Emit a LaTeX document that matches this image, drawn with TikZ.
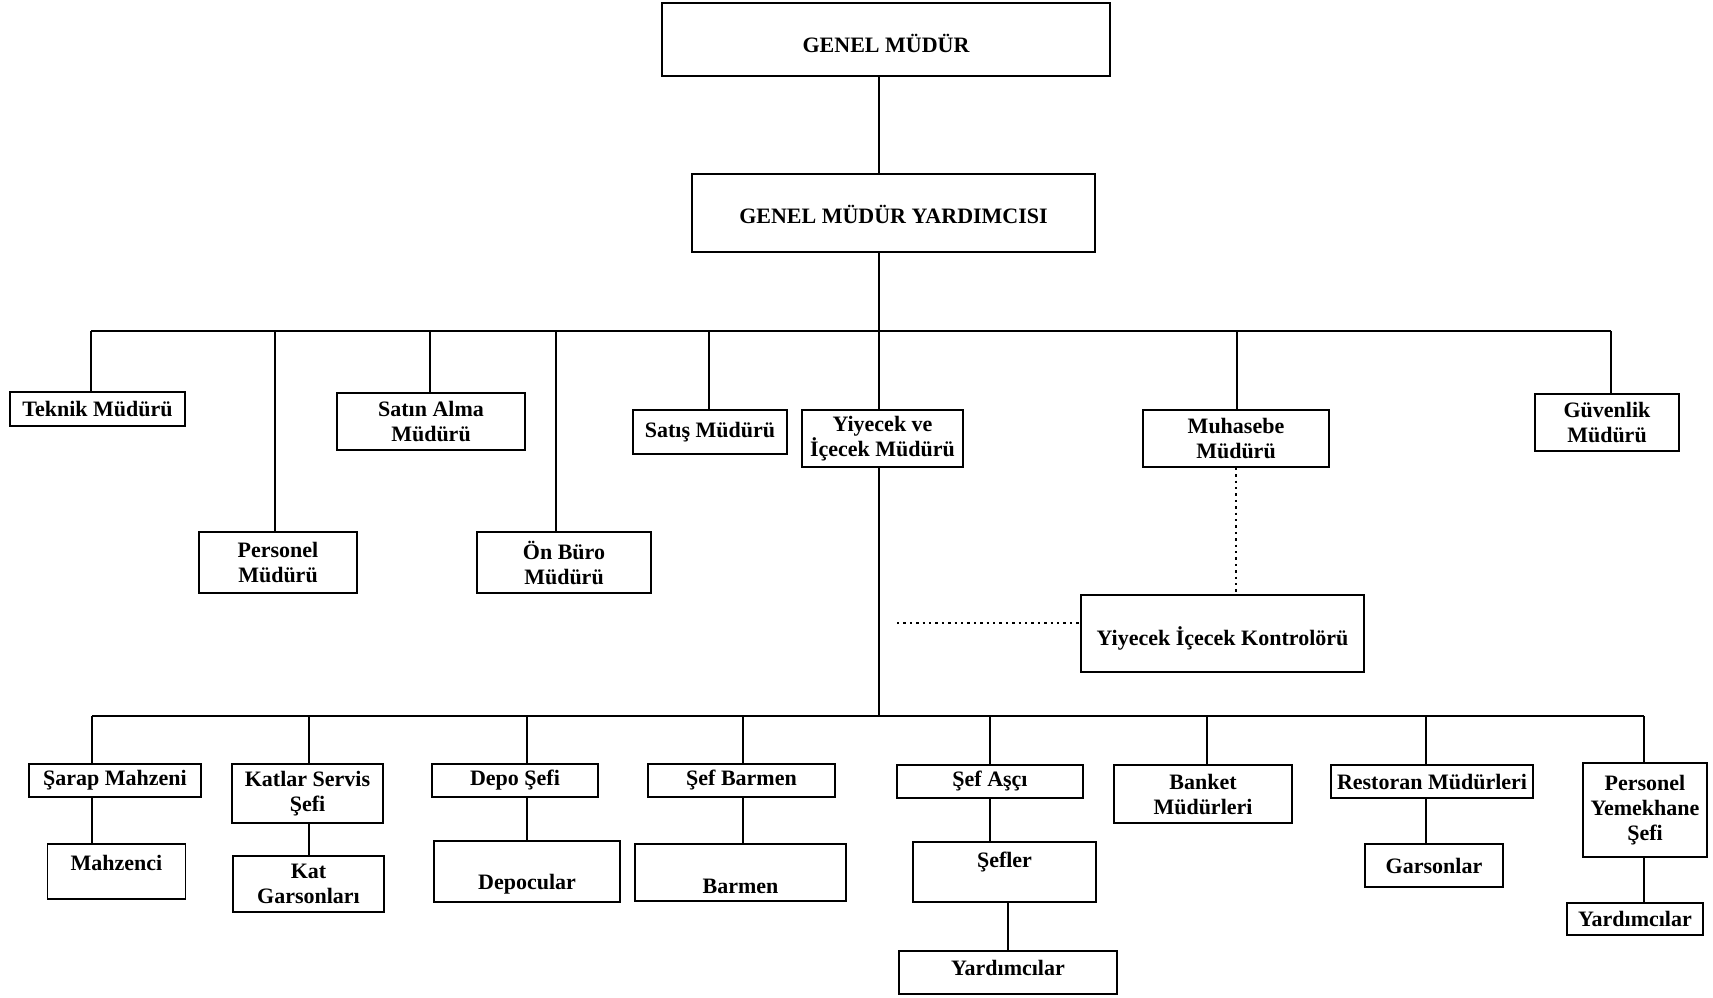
\documentclass[tikz,border=0pt]{standalone}
\usepackage{fontspec}
\setmainfont{Liberation Serif}
\usepackage{tikz}
\usetikzlibrary{calc,positioning}

\begin{document}
\begin{tikzpicture}[x=0.5pt,y=-0.5pt]

\tikzset{kutu/.style 2 args={draw,line width=0.8pt,inner sep=0pt,align=center,font=\bfseries\fontsize{11}{12.5}\selectfont,minimum width=#1,minimum height=#2},
baglanti/.style={line width=0.8pt},
noktali/.style={line width=0.8pt,dash pattern=on 1.2pt off 2pt}}

\useasboundingbox (0,0) rectangle (1713,997);

% Top
\node[kutu={224pt}{36.5pt},text height=13pt] (gm) at (886,39.5) {GENEL MÜDÜR};
\node[kutu={201.5pt}{39pt},text height=11pt] (gmy) at (893.5,213) {GENEL MÜDÜR YARDIMCISI};

% first level
\node[kutu={87.5pt}{17pt}] (teknik) at (97.5,409) {Teknik Müdürü};
\node[kutu={79pt}{30.5pt}] (personel) at (278,562.5) {Personel\\Müdürü};
\node[kutu={94pt}{28.5pt}] (satin) at (431,421.5) {Satın Alma\\Müdürü};
\node[kutu={87pt}{30.5pt}] (onburo) at (564,562.5) {Ön Büro\\Müdürü};
\node[kutu={77pt}{22pt}] (satis) at (710,432) {Satış Müdürü};
\node[kutu={80.5pt}{28.5pt}] (yiyecek) at (882.5,438.5) {Yiyecek ve\\İçecek Müdürü};
\node[kutu={93pt}{28.5pt}] (muhasebe) at (1236,438.5) {Muhasebe\\Müdürü};
\node[kutu={72pt}{28.5pt}] (guvenlik) at (1607,422.5) {Güvenlik\\Müdürü};
\node[kutu={141.5pt}{38.5pt},text height=14.5pt] (kontrol) at (1222.5,633.5) {Yiyecek İçecek Kontrolörü};

% second level
\node[kutu={86pt}{16.5pt}] (sarap) at (115,780.5) {Şarap Mahzeni};
\node[kutu={69pt}{27.5pt},text depth=9pt] (mahzenci) at (116.5,871.5) {Mahzenci};
\node[kutu={75.5pt}{29.5pt}] (katlar) at (307.5,793.5) {Katlar Servis\\Şefi};
\node[kutu={75.5pt}{28pt}] (katgarson) at (308.5,884) {Kat\\Garsonları};
\node[kutu={83pt}{16.5pt}] (depo) at (515,780.5) {Depo Şefi};
\node[kutu={93pt}{30.5pt},text height=20.5pt] (depocular) at (527,871.5) {Depocular};
\node[kutu={93.5pt}{16.5pt}] (sefbarmen) at (741.5,780.5) {Şef Barmen};
\node[kutu={105.5pt}{28.5pt},text height=21pt] (barmen) at (740.5,872.5) {Barmen};
\node[kutu={93pt}{16.5pt}] (sefasci) at (990,781.5) {Şef Aşçı};
\node[kutu={91.5pt}{30pt},text depth=12pt] (sefler) at (1004.5,872) {Şefler};
\node[kutu={109pt}{21.5pt},text depth=4.5pt] (yardimci1) at (1008,972.5) {Yardımcılar};
\node[kutu={89pt}{29pt}] (banket) at (1203,794) {Banket\\Müdürleri};
\node[kutu={101pt}{16.5pt}] (restoran) at (1432,781.5) {Restoran Müdürleri};
\node[kutu={69pt}{21.5pt}] (garsonlar) at (1434,865.5) {Garsonlar};
\node[kutu={62pt}{47pt}] (peryem) at (1645,810) {Personel\\Yemekhane\\Şefi};
\node[kutu={68pt}{16pt}] (yardimci2) at (1635,919) {Yardımcılar};

% drop points on the bars
\coordinate (spine) at (879,0);
\foreach \n/\x in {teknik/91,personel/275,satin/430,onburo/556,satis/709,muhasebe/1237,guvenlik/1611} \coordinate (\n-top) at (\x,331);
\foreach \n/\x in {sarap/92,katlar/309,depo/527,sefbarmen/743,sefasci/990,banket/1207,restoran/1426,peryem/1644} \coordinate (\n-top) at (\x,716);

% Edges
\draw[baglanti] (gm.south -| spine) -- (gmy.north -| spine);
\draw[baglanti] (gmy.south -| spine) -- (yiyecek.north -| spine);
\draw[baglanti] (yiyecek.south -| spine) -- (spine |- sarap-top);
\draw[baglanti] (teknik-top) -- (guvenlik-top); \draw[baglanti] (sarap-top) -- (peryem-top);
\foreach \n in {teknik,personel,satin,onburo,satis,muhasebe,guvenlik} \draw[baglanti] (\n-top) -- (\n.north -| \n-top);
\foreach \n/\c in {sarap/mahzenci,katlar/katgarson,depo/depocular,sefbarmen/barmen,sefasci/sefler,banket/banket,restoran/garsonlar,peryem/yardimci2} {
  \draw[baglanti] (\n-top) -- (\n.north -| \n-top);
  \ifx\n\c\else\draw[baglanti] (\n.south -| \n-top) -- (\c.north -| \n-top);\fi
}
\draw[baglanti] (sefler.south -| yardimci1.north) -- (yardimci1.north);

% dotted links
\coordinate (kesik) at (897,623);
\draw[noktali] (muhasebe.south) -- (muhasebe.south |- kontrol.north);
\draw[noktali] (kesik) -- (kesik -| kontrol.west);

\end{tikzpicture}
\end{document}
